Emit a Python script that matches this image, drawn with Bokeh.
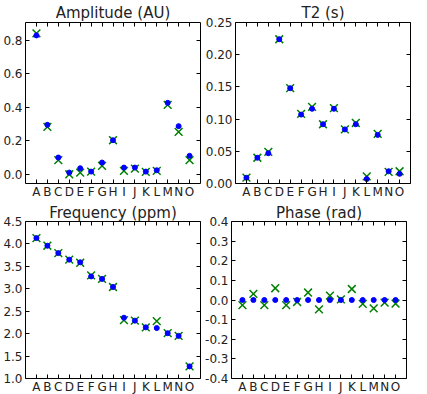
from bokeh.plotting import figure
from bokeh.layouts import column, row
from bokeh.models import FixedTicker, PrintfTickFormatter, LinearAxis, Range1d, CustomLabelingPolicy
from bokeh.embed import file_html
from bokeh.resources import INLINE

letters = list("ABCDEFGHIJKLMNO")

amp_fit = [0.828, 0.295, 0.100, 0.010, 0.036, 0.016, 0.070, 0.203, 0.040, 0.040, 0.016, 0.024, 0.426, 0.287, 0.110]
amp_true = [0.840, 0.283, 0.084, 0.000, 0.010, 0.016, 0.050, 0.203, 0.020, 0.034, 0.014, 0.020, 0.414, 0.253, 0.084]

t2_fit = [0.009, 0.040, 0.047, 0.224, 0.148, 0.107, 0.116, 0.092, 0.116, 0.084, 0.092, 0.007, 0.0755, 0.019, 0.015]
t2_true = [0.009, 0.040, 0.049, 0.224, 0.148, 0.108, 0.119, 0.092, 0.117, 0.084, 0.094, 0.011, 0.077, 0.018, 0.019]

freq_fit = [4.13, 3.96, 3.795, 3.65, 3.59, 3.276, 3.22, 3.04, 2.355, 2.29, 2.14, 2.125, 2.01, 1.95, 1.27]
freq_true = [4.13, 3.96, 3.795, 3.65, 3.58, 3.30, 3.22, 3.04, 2.30, 2.29, 2.14, 2.28, 2.01, 1.95, 1.27]

phase_fit = [0.0] * 15
phase_true = [-0.026, 0.031, -0.026, 0.060, -0.026, -0.010, 0.038, -0.048, 0.022, 0.003, 0.056, -0.020, -0.043, -0.013, -0.018]

panels = [
    ("Amplitude (AU)", amp_fit, amp_true, (-0.055, 0.905), [0.0, 0.2, 0.4, 0.6, 0.8], "%.1f"),
    ("T2 (s)", t2_fit, t2_true, (0.0, 0.25), [0.0, 0.05, 0.10, 0.15, 0.20, 0.25], "%.2f"),
    ("Frequency (ppm)", freq_fit, freq_true, (1.0, 4.5), [1.0, 1.5, 2.0, 2.5, 3.0, 3.5, 4.0, 4.5], "%.1f"),
    ("Phase (rad)", phase_fit, phase_true, (-0.4, 0.4), [-0.4, -0.3, -0.2, -0.1, 0.0, 0.1, 0.2, 0.3, 0.4], "%.1f"),
]

FONT = "DejaVu Sans"
xs = list(range(1, len(letters) + 1))
overrides = {i + 1: l for i, l in enumerate(letters)}

geom = [
    dict(min_border_right=2, frame_height=161, title_standoff=2),
    dict(min_border_right=7, frame_height=161, title_standoff=2),
    dict(min_border_right=2, frame_height=157, title_standoff=0),
    dict(min_border_right=7, frame_height=157, title_standoff=0),
]

HIDE = """
const all = [...indices]
for (const i of all) indices.unset(i)
return indices
"""


def style_axis(ax, ticks, fmt=None, labels=True, standoff=3):
    ax.ticker = FixedTicker(ticks=ticks)
    ax.major_tick_in = 4
    ax.major_tick_out = 0
    ax.minor_tick_line_color = None
    ax.axis_line_color = None
    ax.major_tick_line_color = "black"
    ax.axis_label_standoff = 0
    if fmt:
        ax.formatter = PrintfTickFormatter(format=fmt)
    ax.major_label_text_font = FONT
    ax.major_label_text_color = "#222222"
    if labels:
        ax.major_label_text_font_size = "12px"
        ax.major_label_standoff = standoff
    else:
        ax.major_label_text_font_size = "0px"
        ax.major_label_standoff = 0
        ax.major_label_policy = CustomLabelingPolicy(code=HIDE)


figs = []
for (title, fit, true, yr, yticks, fmt), g in zip(panels, geom):
    p = figure(output_backend="svg", toolbar_location=None,
               frame_width=175, frame_height=g["frame_height"],
               min_border_left=0, min_border_right=g["min_border_right"],
               min_border_top=0, min_border_bottom=0,
               x_range=Range1d(0, 16), y_range=Range1d(*yr),
               x_axis_location=None, y_axis_location=None, title=title)
    p.title.text_font = FONT
    p.title.text_font_size = "15px"
    p.title.text_font_style = "normal"
    p.title.text_color = "#222222"
    p.title.align = "center"
    p.title.standoff = g["title_standoff"]
    p.title.offset = 0
    p.outline_line_color = "black"
    p.outline_line_width = 1
    p.xgrid.visible = False
    p.ygrid.visible = False
    p.background_fill_color = "white"
    p.border_fill_color = "white"

    xb = LinearAxis()
    style_axis(xb, xs, standoff=1)
    xb.major_label_overrides = overrides
    p.add_layout(xb, "below")
    xa = LinearAxis()
    style_axis(xa, xs, labels=False)
    p.add_layout(xa, "above")
    yl = LinearAxis()
    style_axis(yl, yticks, fmt)
    p.add_layout(yl, "left")
    yr_ax = LinearAxis()
    style_axis(yr_ax, yticks, labels=False)
    p.add_layout(yr_ax, "right")

    p.scatter(xs, true, marker="x", size=11, line_color="#008000", line_width=1.5)
    p.scatter(xs, fit, marker="circle", size=5, fill_color="#0000ff", line_color="#0000ff")

    figs.append(p)

layout = column(row(figs[0], figs[1]), row(figs[2], figs[3]))
open("out.html", "w").write(file_html(layout, INLINE))
